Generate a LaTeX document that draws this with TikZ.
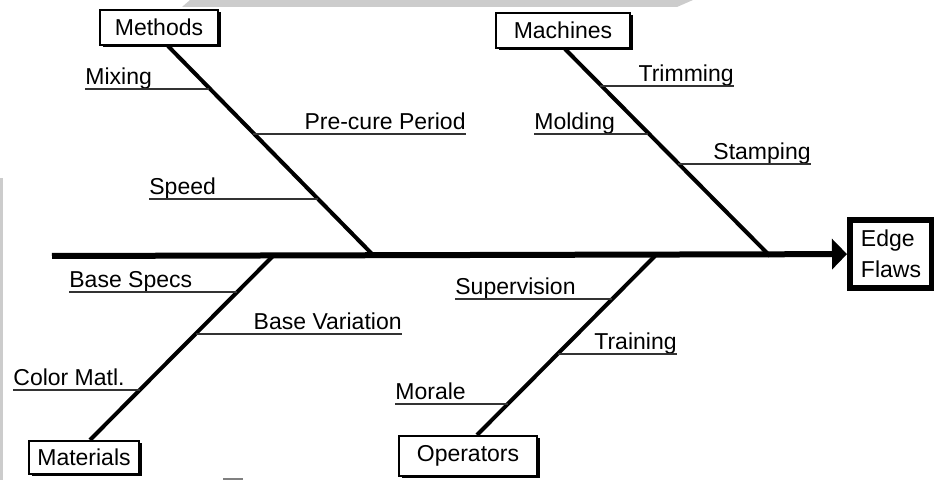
\documentclass[tikz,border=0pt]{standalone}
\usepackage{fontspec}
\setmainfont{Liberation Sans}
\usetikzlibrary{arrows.meta, shadows}
\definecolor{bandcol}{HTML}{CCCCCC}
\definecolor{twigcol}{HTML}{333333}
\tikzset{
  catbox/.style={rectangle, draw, fill=white, line width=1pt, inner sep=0pt,
    drop shadow={shadow xshift=1.25pt, shadow yshift=-1.25pt, fill=black, opacity=1}},
  effbox/.style={rectangle, draw, fill=white, line width=3pt, inner sep=0pt, align=left},
  cause/.style={inner sep=0pt},
  spine/.style={line width=3pt, -{Triangle[length=7.5pt, width=15pt]}},
  bone/.style={line width=2pt},
  twig/.style={line width=1pt, draw=twigcol},
}

\begin{document}
\begin{tikzpicture}[x=0.5pt, y=-0.5pt, font=\fontsize{11.5}{15.5}\selectfont]
  \useasboundingbox (0,0) rectangle (934,497);
  \fill[bandcol] (190,0) -- (693,0) -- (677,7) -- (182,7) -- cycle;
  \fill[bandcol] (0,178) rectangle (3,480);
  \draw[gray, line width=0.8pt] (223,479) -- (243,479);

  \node[catbox, minimum width=59pt, minimum height=17.5pt] (mth) at (159,27.5) {Methods};
  \node[catbox, minimum width=67pt, minimum height=17.5pt] (mch) at (563,30.5) {Machines};
  \node[catbox, minimum width=55pt, minimum height=16.5pt] (mat) at (84,457.5) {Materials};
  \node[catbox, minimum width=69pt, minimum height=20pt] (opr) at (468,456) {Operators};
  \node[effbox, minimum width=41pt, minimum height=34pt] (flaws) at (891,254) {Edge\\Flaws};

  \coordinate (spinestart) at (52,256);
  \coordinate (jmth) at (374,256);
  \coordinate (jmch) at (770,256);
  \coordinate (jmat) at (273,256);
  \coordinate (jopr) at (655,256);

  \draw[spine] (spinestart) -- (flaws);
  \draw[bone] ([xshift=4.5pt]mth.south) -- (jmth);
  \draw[bone] ([xshift=1pt]mch.south) -- (jmch);
  \draw[bone] ([xshift=3pt]mat.north) -- (jmat);
  \draw[bone] ([xshift=4.5pt]opr.north) -- (jopr);

  \node[cause, anchor=base west] (mix) at (85,85) {Mixing};
  \node[cause, anchor=base east] (pre) at (466,130) {Pre-cure Period};
  \node[cause, anchor=base west] (spd) at (149,195) {Speed};
  \coordinate (mixj) at (209,89);
  \coordinate (prej) at (253,134);
  \coordinate (spdj) at (318,199);
  \draw[twig] (mix.west |- mixj) -- (mixj);
  \draw[twig] (prej) -- (prej -| pre.east);
  \draw[twig] (spd.west |- spdj) -- (spdj);

  \node[cause, anchor=base east] (trm) at (734,82) {Trimming};
  \node[cause, anchor=base west] (mld) at (534,130) {Molding};
  \node[cause, anchor=base east] (stp) at (811,160) {Stamping};
  \coordinate (trmj) at (600,86);
  \coordinate (mldj) at (648,134);
  \coordinate (stpj) at (678,164);
  \draw[twig] (trmj) -- (trmj -| trm.east);
  \draw[twig] (mld.west |- mldj) -- (mldj);
  \draw[twig] (stpj) -- (stpj -| stp.east);

  \node[cause, anchor=base west] (bsp) at (69,288) {Base Specs};
  \node[cause, anchor=base east] (bvr) at (402,330) {Base Variation};
  \node[cause, anchor=base west] (col) at (13,386) {Color Matl.};
  \coordinate (bspj) at (237,292);
  \coordinate (bvrj) at (196,334);
  \coordinate (colj) at (140,390);
  \draw[twig] (bsp.west |- bspj) -- (bspj);
  \draw[twig] (bvrj) -- (bvrj -| bvr.east);
  \draw[twig] (col.west |- colj) -- (colj);

  \node[cause, anchor=base west] (sup) at (455,295) {Supervision};
  \node[cause, anchor=base east] (trn) at (677,350) {Training};
  \node[cause, anchor=base west] (mor) at (395,400) {Morale};
  \coordinate (supj) at (612,299);
  \coordinate (trnj) at (558,354);
  \coordinate (morj) at (508,404);
  \draw[twig] (sup.west |- supj) -- (supj);
  \draw[twig] (trnj) -- (trnj -| trn.east);
  \draw[twig] (mor.west |- morj) -- (morj);
\end{tikzpicture}
\end{document}
